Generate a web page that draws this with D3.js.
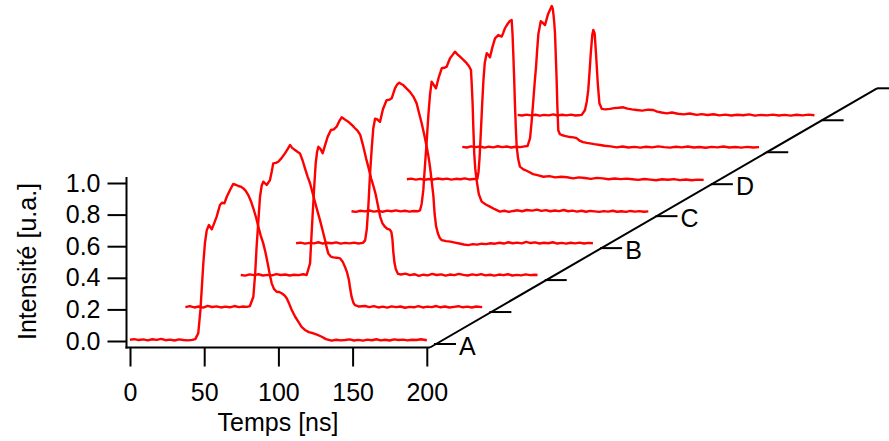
<!DOCTYPE html>
<html><head><meta charset="utf-8">
<script src="https://cdn.jsdelivr.net/npm/d3@7"></script>
<style>
body{margin:0;background:#fff}
svg{display:block}
text{font-family:"Liberation Sans",Arial,Helvetica,sans-serif;fill:#000}
</style>
</head><body>
<svg id="c" width="889" height="441"></svg>
<script>
// ---- data ----
const xTicks = [0, 50, 100, 150, 200];
const yTicks = [0, 0.2, 0.4, 0.6, 0.8, 1.0];
const depthTicks = [0, 1, 2, 3, 4, 5, 6, 7, 8];
const depthTickLabels = ["A", "", "", "B", "C", "D", "", "", ""];
const xTitle = "Temps [ns]";
const yTitle = "Intensité [u.a.]";

const trace0 = [[0,0.008],[3,0.012],[6,0.006],[9,0.01],[12,0.004],[15,0.011],[18,0.007],[21,0.013],[24,0.005],[27,0.009],[30,0.003],[33,0.01],[36,0.006],[39,0.004],[42,0.007],[44,0.012],[46,0.049],[47.5,0.2],[49.4,0.49],[50.5,0.62],[51.7,0.70],[53.2,0.734],[55.1,0.707],[56.5,0.74],[58.4,0.787],[60.6,0.861],[62,0.875],[63.6,0.871],[65.2,0.913],[67.4,0.956],[69.6,0.994],[71,0.99],[73,0.981],[75,0.975],[76.4,0.966],[78,0.95],[79.7,0.924],[81.5,0.885],[83.1,0.84],[85,0.78],[86.5,0.723],[88,0.67],[89.8,0.618],[91.3,0.56],[92.8,0.49],[94.2,0.42],[95.5,0.365],[97,0.33],[98.8,0.312],[100.5,0.31],[102.2,0.302],[104,0.29],[105.6,0.27],[107.3,0.235],[109,0.196],[111.2,0.155],[113.4,0.122],[115.6,0.09],[117.9,0.07],[120.5,0.056],[123.5,0.049],[126,0.04],[129.2,0.027],[132,0.012],[135.9,0.002],[139,0.008],[142,0.004],[144.9,0.006],[148,0.01],[151,0.003],[154,0.007],[157,0.002],[160,0.009],[163,0.005],[166,0.011],[169,0.004],[172,0.008],[175,0.003],[178,0.01],[181,0.006],[184,0.009],[187,0.004],[190,0.008],[193,0.006],[196,0.011],[200,0.005]];
const trace1 = [[0,0.012],[3,0.018],[6,0.01],[9,0.016],[12,0.009],[15,0.02],[18,0.013],[21,0.017],[24,0.01],[27,0.015],[30,0.011],[33,0.019],[36,0.012],[39,0.016],[41.5,0.014],[43.5,0.019],[45.8,0.078],[47,0.22],[48,0.394],[49.2,0.56],[50.3,0.711],[51.4,0.78],[52.5,0.806],[54.8,0.785],[57,0.816],[58.2,0.87],[59.2,0.922],[61,0.925],[62.6,0.932],[64.8,0.955],[67.1,0.985],[68.8,1.01],[70.5,1.038],[72,1.02],[73.9,1.006],[75.5,0.995],[77.2,0.985],[79,0.94],[80.6,0.89],[82.3,0.84],[84,0.796],[85.6,0.74],[87.3,0.679],[89,0.62],[90.7,0.563],[92.4,0.5],[94.1,0.437],[95.2,0.39],[96.3,0.352],[98,0.332],[99.7,0.327],[102,0.325],[104.2,0.321],[106,0.3],[107.5,0.268],[109,0.23],[110.2,0.184],[111.2,0.12],[112,0.078],[113.2,0.04],[114.3,0.025],[117,0.016],[121,0.019],[124,0.012],[127,0.018],[130,0.01],[133,0.015],[136,0.009],[139,0.017],[142,0.012],[145,0.016],[148,0.008],[151,0.014],[154,0.011],[157,0.018],[160,0.01],[163,0.015],[166,0.012],[169,0.019],[172,0.011],[175,0.016],[178,0.01],[181,0.014],[184,0.018],[187,0.011],[190,0.015],[193,0.01],[196,0.016],[200,0.012]];
const trace2 = [[0,0.013],[3,0.009],[6,0.017],[9,0.012],[12,0.018],[15,0.01],[18,0.014],[21,0.011],[24,0.019],[27,0.013],[30,0.016],[33,0.01],[36,0.015],[39,0.012],[42,0.018],[44.4,0.013],[46.7,0.087],[47.6,0.25],[48.5,0.404],[49.5,0.57],[50.5,0.72],[51.4,0.79],[52.3,0.825],[53.8,0.81],[55.2,0.784],[57,0.84],[58.6,0.889],[60.8,0.931],[62.7,0.935],[64.6,0.952],[66.3,0.985],[68,1.011],[69.7,1.0],[71.4,0.99],[73.5,0.975],[75.2,0.96],[77,0.942],[78.8,0.925],[80.5,0.90],[82.5,0.83],[84.5,0.75],[86.3,0.685],[88,0.62],[89.6,0.57],[91,0.52],[92.5,0.45],[94,0.38],[95.5,0.34],[97,0.32],[98.8,0.305],[100.5,0.30],[101.5,0.285],[102.2,0.24],[102.8,0.16],[103.6,0.09],[104.5,0.05],[106,0.02],[108,0.016],[111,0.022],[114,0.012],[117,0.018],[120,0.008],[123,0.015],[126,0.011],[129,0.02],[132,0.013],[135,0.017],[138,0.009],[141,0.016],[144,0.012],[147,0.02],[150,0.014],[153,0.01],[156,0.017],[159,0.012],[162,0.019],[165,0.011],[168,0.015],[171,0.009],[174,0.016],[177,0.012],[180,0.018],[183,0.01],[186,0.014],[189,0.011],[192,0.017],[195,0.012],[198,0.015],[200,0.013]];
const trace3 = [[0,0.012],[3,0.016],[6,0.009],[9,0.014],[12,0.011],[15,0.018],[18,0.01],[21,0.015],[24,0.012],[27,0.017],[30,0.009],[33,0.014],[36,0.011],[39,0.016],[42,0.01],[45,0.014],[46.5,0.03],[47.6,0.1],[48.7,0.25],[49.8,0.45],[51,0.62],[52,0.74],[53.2,0.80],[54.8,0.795],[56.5,0.78],[58.5,0.86],[61,0.918],[62.8,0.92],[64.4,0.929],[65.5,0.96],[66.6,0.992],[68,1.015],[69.5,1.028],[70.8,1.02],[72.2,1.013],[74.5,0.99],[76.7,0.97],[79,0.94],[81.2,0.897],[83,0.83],[84.6,0.771],[86.3,0.70],[88,0.623],[89.2,0.56],[90.2,0.496],[91.3,0.41],[92.5,0.31],[93.3,0.2],[94.3,0.12],[95.5,0.075],[96.8,0.045],[98.1,0.032],[101,0.025],[104,0.022],[107,0.016],[110,0.01],[113,0.004],[116,0.0],[119,0.006],[122,0.003],[125,0.009],[128,0.006],[131,0.012],[134,0.009],[137,0.015],[140,0.01],[143,0.018],[146,0.012],[149,0.016],[152,0.011],[155,0.02],[158,0.013],[161,0.017],[164,0.01],[167,0.015],[170,0.012],[173,0.018],[176,0.01],[179,0.014],[182,0.009],[185,0.015],[188,0.011],[191,0.016],[194,0.01],[197,0.014],[200,0.012]];
const trace4 = [[0,0.012],[3,0.008],[6,0.015],[9,0.011],[12,0.017],[15,0.01],[18,0.014],[21,0.009],[24,0.016],[27,0.012],[30,0.018],[33,0.011],[36,0.015],[39,0.01],[42,0.014],[44.5,0.012],[46.2,0.018],[47.3,0.06],[48.4,0.147],[49.5,0.30],[50.7,0.46],[51.8,0.62],[52.9,0.748],[54,0.832],[55.5,0.81],[56.9,0.79],[58.8,0.86],[60.8,0.917],[62.5,0.92],[64.1,0.927],[65.3,0.955],[66.4,0.98],[68,1.0],[69.7,1.022],[71.4,1.005],[73.1,0.99],[75.4,0.97],[77.6,0.949],[79.2,0.93],[80.5,0.906],[81,0.82],[81.6,0.696],[82.1,0.54],[82.7,0.379],[83.4,0.28],[84.3,0.21],[85.8,0.12],[87.7,0.073],[90.5,0.055],[93.3,0.041],[96.5,0.025],[100,0.01],[103,0.015],[106,0.008],[109,0.014],[112,0.018],[115,0.012],[118,0.02],[122,0.016],[125,0.022],[128,0.014],[131,0.019],[134,0.012],[137,0.017],[140,0.013],[143,0.02],[146,0.012],[149,0.016],[152,0.01],[155,0.015],[158,0.009],[161,0.014],[164,0.011],[167,0.008],[170,0.013],[173,0.01],[176,0.015],[179,0.009],[182,0.012],[185,0.008],[188,0.014],[191,0.01],[194,0.013],[197,0.009],[200,0.011]];
const trace5 = [[0,0.012],[3,0.016],[6,0.01],[9,0.015],[12,0.009],[15,0.014],[18,0.011],[21,0.017],[24,0.012],[27,0.016],[30,0.01],[33,0.015],[36,0.012],[39,0.018],[42,0.011],[45,0.014],[47.5,0.015],[48.3,0.06],[49,0.15],[49.9,0.32],[50.8,0.5],[51.6,0.64],[52.5,0.75],[53.8,0.81],[55,0.80],[56,0.784],[57.7,0.85],[59.4,0.904],[61.6,0.925],[63.9,0.915],[65,0.94],[66.1,0.968],[67.5,0.99],[69,1.01],[70.6,1.02],[71.2,0.93],[71.7,0.81],[72.3,0.65],[72.8,0.493],[73.4,0.34],[74,0.218],[75,0.14],[76.2,0.092],[78.5,0.075],[80.7,0.066],[83,0.055],[85,0.045],[88,0.038],[92,0.028],[96,0.032],[100,0.024],[104,0.028],[108,0.025],[112,0.018],[116,0.024],[120,0.02],[124,0.015],[128,0.021],[132,0.018],[136,0.012],[140,0.017],[144,0.013],[148,0.016],[152,0.012],[156,0.008],[160,0.014],[164,0.01],[168,0.006],[172,0.012],[176,0.009],[180,0.013],[184,0.007],[188,0.011],[192,0.006],[196,0.01],[200,0.008]];
const trace6 = [[0,0.015],[3,0.011],[6,0.018],[9,0.013],[12,0.017],[15,0.01],[18,0.016],[21,0.012],[24,0.019],[27,0.013],[30,0.017],[33,0.011],[36,0.016],[39,0.013],[42,0.018],[44,0.02],[45.7,0.07],[46.8,0.18],[47.9,0.31],[48.8,0.42],[49.7,0.52],[50.5,0.63],[51.3,0.73],[52.9,0.81],[54.3,0.80],[55.8,0.786],[57.8,0.855],[59,0.88],[60.3,0.906],[61,0.89],[61.5,0.85],[62,0.80],[62.5,0.735],[63,0.60],[63.6,0.44],[64.1,0.27],[64.7,0.12],[65.8,0.095],[67,0.09],[69,0.085],[72.6,0.077],[75,0.075],[77,0.07],[79,0.055],[81.4,0.045],[84,0.04],[86,0.037],[89,0.032],[92.8,0.027],[96,0.022],[100,0.018],[104,0.012],[108,0.017],[112,0.011],[116,0.015],[120,0.01],[124,0.016],[128,0.012],[132,0.018],[136,0.013],[140,0.01],[144,0.016],[148,0.012],[152,0.017],[156,0.011],[160,0.014],[164,0.009],[168,0.015],[172,0.012],[176,0.017],[180,0.011],[184,0.014],[188,0.01],[192,0.015],[196,0.011],[200,0.013]];
const trace7 = [[0,0.015],[3,0.011],[6,0.017],[9,0.012],[12,0.016],[15,0.01],[18,0.015],[21,0.012],[24,0.018],[27,0.011],[30,0.016],[33,0.012],[36,0.017],[39,0.011],[41,0.013],[43.2,0.015],[45.4,0.046],[46.6,0.1],[47.6,0.173],[48.5,0.29],[49.3,0.405],[50.3,0.52],[51,0.553],[51.9,0.531],[52.8,0.405],[54,0.215],[55.1,0.089],[56.7,0.053],[59,0.05],[62.3,0.053],[65,0.058],[68,0.06],[71.2,0.063],[74,0.055],[77,0.05],[80.2,0.046],[84,0.042],[88,0.048],[91.4,0.046],[94,0.036],[97,0.03],[100.5,0.025],[104,0.03],[108,0.022],[112,0.018],[116,0.024],[120.7,0.015],[124,0.02],[128,0.014],[132,0.019],[136,0.012],[140,0.017],[144,0.011],[148,0.016],[152,0.013],[156,0.018],[160,0.01],[164,0.015],[168,0.012],[172,0.017],[176,0.011],[180,0.015],[184,0.01],[188,0.016],[192,0.012],[196,0.017],[200,0.013]];
const traces = [trace0, trace1, trace2, trace3, trace4, trace5, trace6, trace7];

// ---- scales ----
const svg = d3.select("#c");
const FONT = 25;
const x = d3.scaleLinear().domain([0, 200]).range([130, 426.8]);
const y = d3.scaleLinear().domain([0, 1]).range([341, 183]);
// depth (waterfall) offsets
const zx = d3.scaleLinear().domain([0, 8]).range([0, 443]);
const zy = d3.scaleLinear().domain([0, 8]).range([0, -255.7]);

// ---- traces ----
const line = d3.line().x(d => x(d[0])).y(d => y(d[1]));
svg.append("g").selectAll("path").data(traces).join("path")
  .attr("transform", (d, i) => `translate(${zx(i)},${zy(i)})`)
  .attr("d", line)
  .attr("fill", "none")
  .attr("stroke", "#ff0000")
  .attr("stroke-width", 2.4)
  .attr("stroke-linejoin", "round");

// ---- y axis ----
const yAxisX = 126.5;
const gy = svg.append("g").attr("transform", `translate(${yAxisX},0)`)
  .call(d3.axisLeft(y).tickValues(yTicks).tickFormat(d3.format(".1f")).tickSize(19).tickPadding(7));
gy.select(".domain").remove();
gy.selectAll(".tick line").attr("stroke", "#000").attr("stroke-width", 2);
gy.selectAll(".tick text").attr("font-size", FONT).attr("font-family", "Liberation Sans, Arial, sans-serif").attr("fill", "#000");
svg.append("line").attr("x1", yAxisX).attr("x2", yAxisX).attr("y1", 177).attr("y2", 348.5)
  .attr("stroke", "#000").attr("stroke-width", 2);

// ---- x axis ----
const xAxisY = 347.5;
const gx = svg.append("g").attr("transform", `translate(0,${xAxisY})`)
  .call(d3.axisBottom(x).tickValues(xTicks).tickFormat(d3.format("d")).tickSize(19).tickPadding(16.5));
gx.select(".domain").remove();
gx.selectAll(".tick line").attr("stroke", "#000").attr("stroke-width", 2);
gx.selectAll(".tick text").attr("font-size", FONT).attr("font-family", "Liberation Sans, Arial, sans-serif").attr("fill", "#000");
svg.append("line").attr("x1", yAxisX - 1).attr("x2", 430).attr("y1", xAxisY).attr("y2", xAxisY)
  .attr("stroke", "#000").attr("stroke-width", 2);

// ---- depth axis ----
const dx0 = 434, dy0 = 344;
svg.append("line").attr("x1", 430).attr("y1", xAxisY).attr("x2", dx0 + zx(8)).attr("y2", dy0 + zy(8))
  .attr("stroke", "#000").attr("stroke-width", 2);
const gz = svg.append("g");
const zt = gz.selectAll("g").data(depthTicks).join("g")
  .attr("transform", d => `translate(${dx0 + zx(d)},${dy0 + zy(d)})`);
zt.append("line").attr("x1", 0).attr("x2", 22).attr("y1", 0).attr("y2", 0)
  .attr("stroke", "#000").attr("stroke-width", 2);
zt.append("text").attr("x", 25).attr("y", 2.5).attr("dy", "0.35em")
  .attr("font-size", FONT).text(d => depthTickLabels[d]);

// ---- titles ----
svg.append("text").attr("x", 278).attr("y", 431).attr("text-anchor", "middle")
  .attr("font-size", FONT).text(xTitle);
svg.append("text").attr("transform", "translate(36,261.5) rotate(-90)").attr("text-anchor", "middle")
  .attr("font-size", FONT).text(yTitle);
</script>
</body></html>
